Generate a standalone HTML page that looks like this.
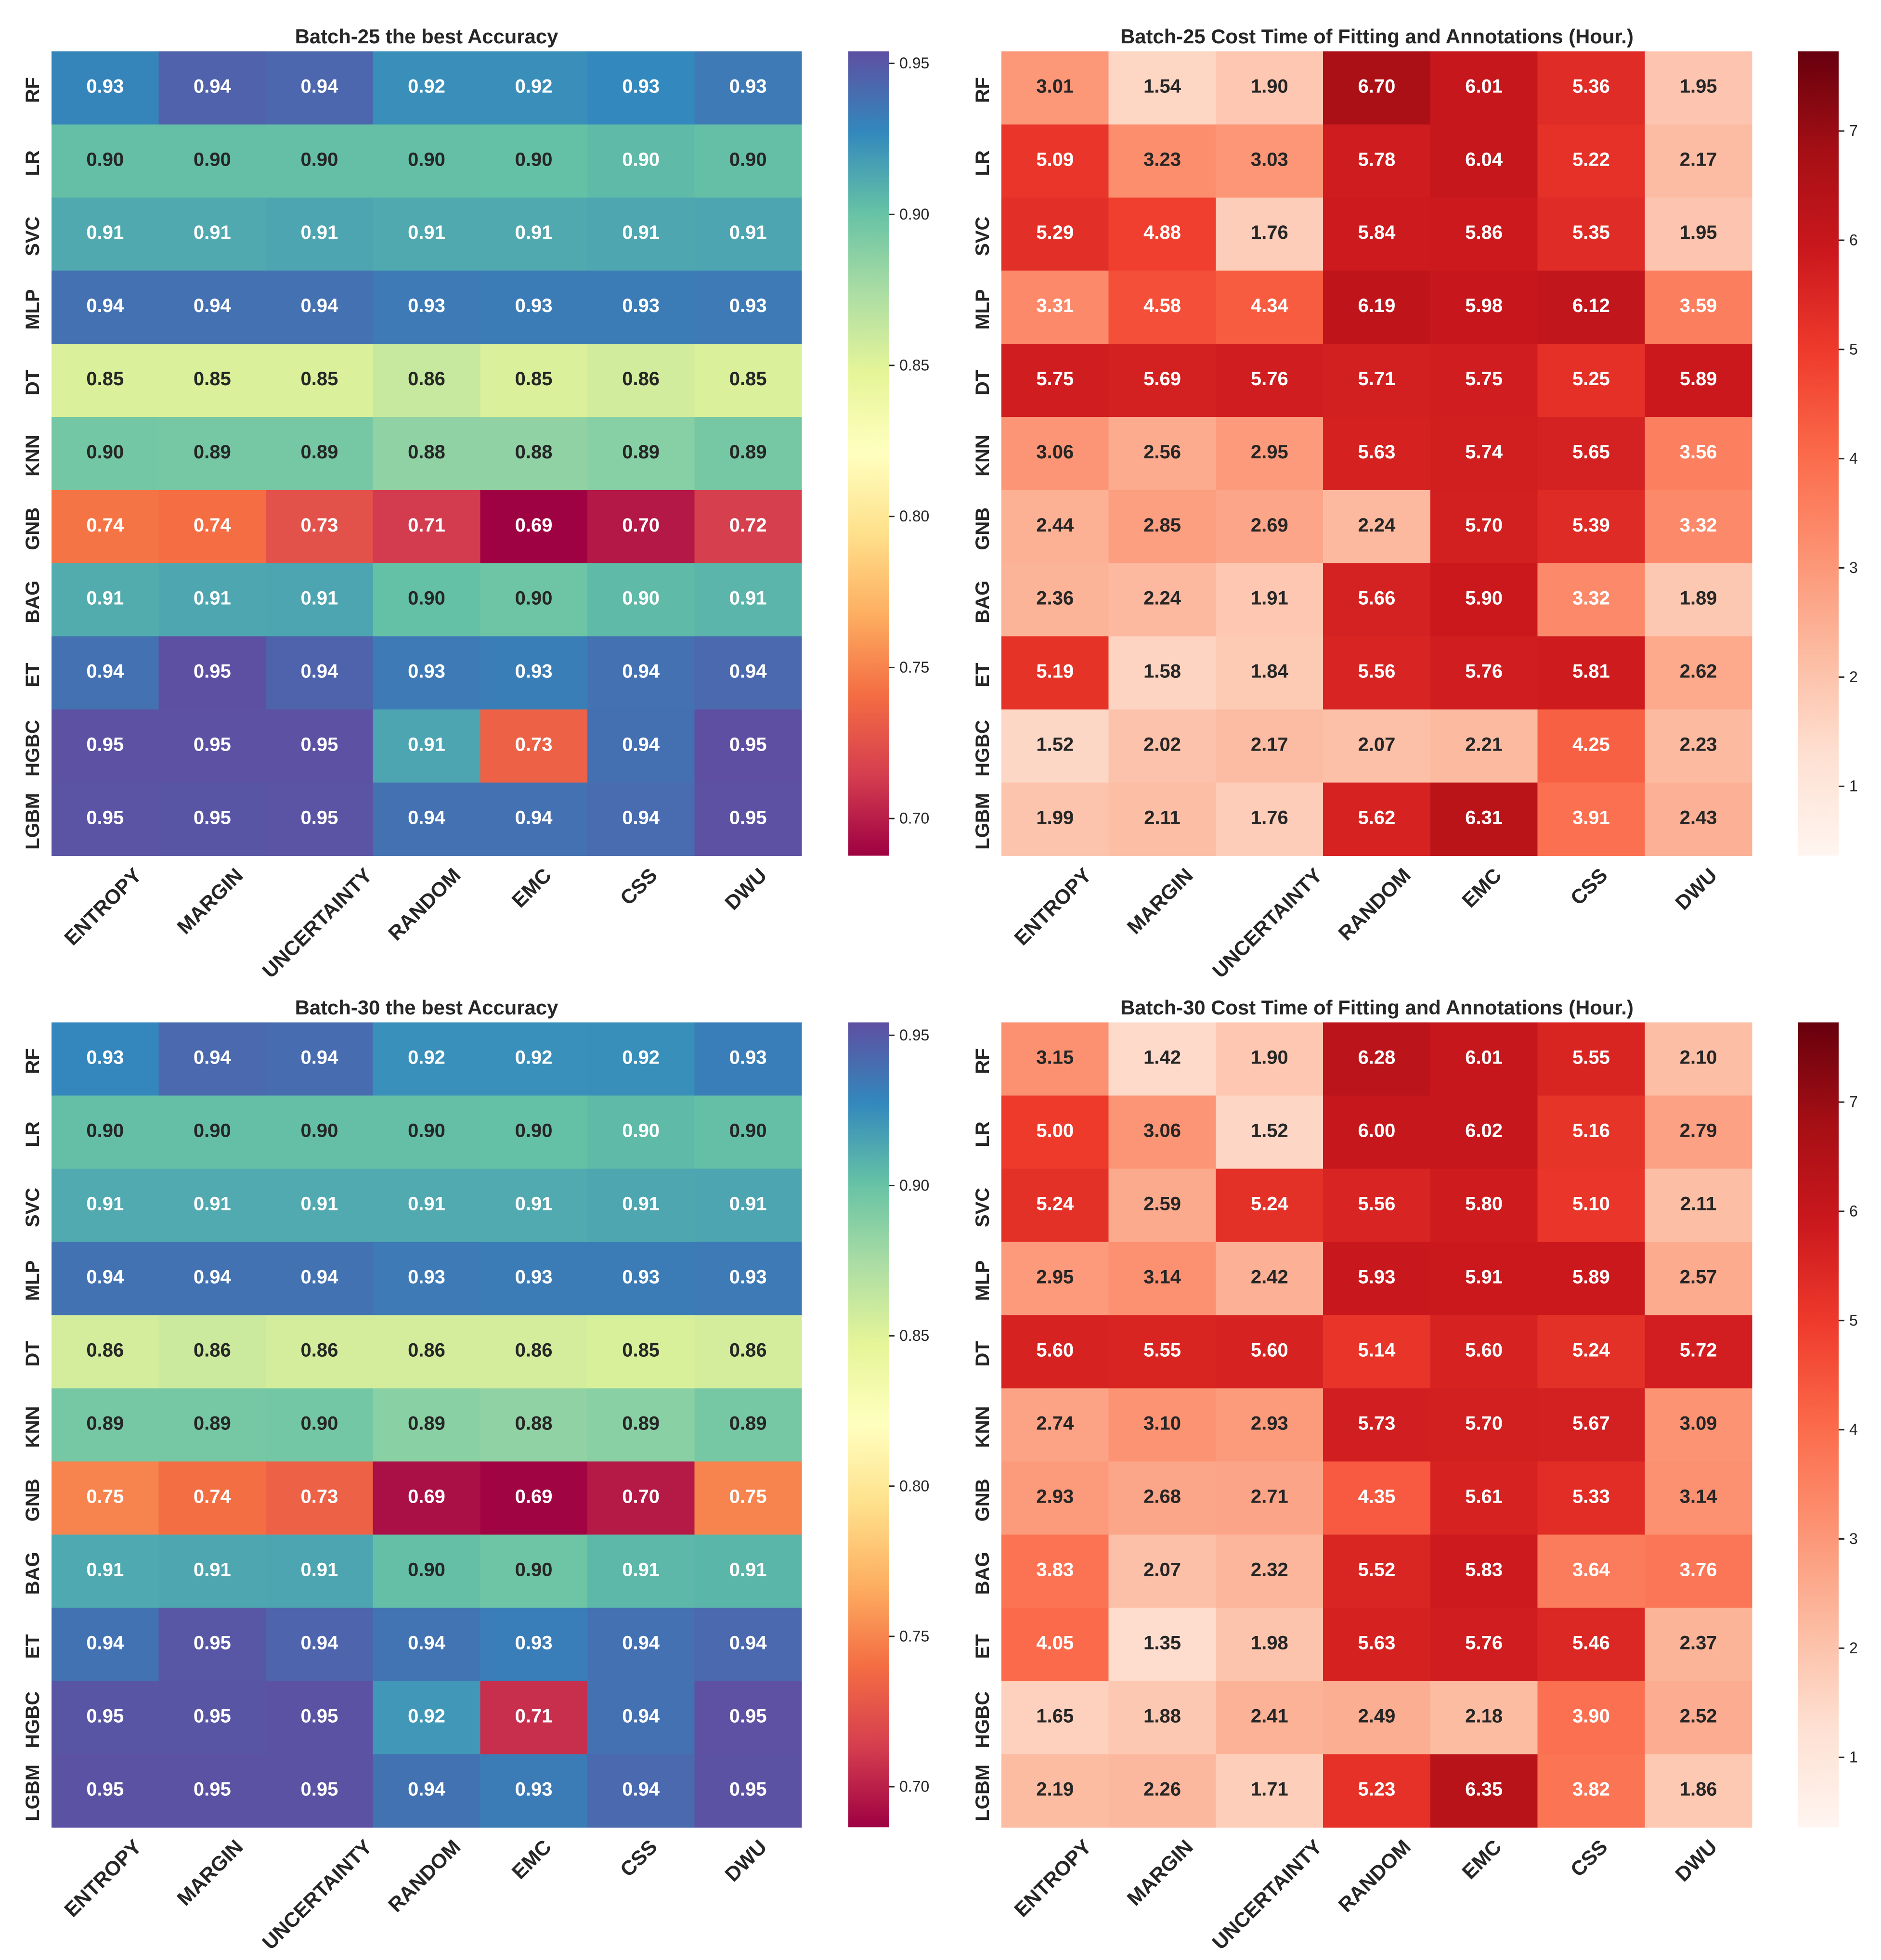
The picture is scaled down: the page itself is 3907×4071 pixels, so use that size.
<!DOCTYPE html>
<html lang="en">
<head>
<meta charset="utf-8">
<title>Batch-25 and Batch-30 accuracy and cost heatmaps</title>
<style>
html,body{margin:0;padding:0;background:#fff;}
svg{display:block;}
text{font-family:"Liberation Sans",Arial,sans-serif;fill:#262626;}
.title{font-size:41.8px;font-weight:bold;text-anchor:middle;}
.annot{font-size:40px;font-weight:bold;text-anchor:middle;}
.ylab{font-size:40px;font-weight:bold;text-anchor:middle;}
.xlab{font-size:42.5px;font-weight:bold;text-anchor:middle;}
.cbt{font-size:32px;}
</style>
</head>
<body>
<svg id="figure" xmlns="http://www.w3.org/2000/svg" width="3907" height="4071" viewBox="0 0 3907 4071">
<rect x="0" y="0" width="3907" height="4071" fill="#ffffff"/>
<defs id="gradients"></defs>
<text class="title" x="886" y="90">Batch-25 the best Accuracy</text>
<text class="title" x="2860" y="90">Batch-25 Cost Time of Fitting and Annotations (Hour.)</text>
<text class="title" x="886" y="2107">Batch-30 the best Accuracy</text>
<text class="title" x="2860" y="2107">Batch-30 Cost Time of Fitting and Annotations (Hour.)</text>
</svg>
<script>
const models = ["RF","LR","SVC","MLP","DT","KNN","GNB","BAG","ET","HGBC","LGBM"];
const strategies = ["ENTROPY","MARGIN","UNCERTAINTY","RANDOM","EMC","CSS","DWU"];

const accuracyBatch25 = [
  [.929,.945,.943,.924,.924,.927,.934],
  [.902,.902,.902,.902,.901,.9045,.902],
  [.912,.912,.914,.912,.912,.913,.914],
  [.938,.938,.938,.934,.933,.933,.934],
  [.853,.853,.853,.862,.853,.857,.853],
  [.8955,.8945,.8945,.8845,.8845,.888,.8945],
  [.744,.741,.7255,.7135,.688,.6977,.7155],
  [.911,.913,.914,.901,.898,.9045,.9065],
  [.938,.9535,.9445,.934,.932,.938,.942],
  [.953,.953,.953,.914,.7349,.9385,.954],
  [.952,.951,.952,.938,.938,.941,.953]
];
const costBatch25 = [
  [3.01,1.54,1.90,6.70,6.01,5.36,1.95],
  [5.09,3.23,3.03,5.78,6.04,5.22,2.17],
  [5.29,4.88,1.76,5.84,5.86,5.35,1.95],
  [3.31,4.58,4.34,6.19,5.98,6.12,3.59],
  [5.75,5.69,5.76,5.71,5.75,5.25,5.89],
  [3.06,2.56,2.95,5.63,5.74,5.65,3.56],
  [2.44,2.85,2.69,2.24,5.70,5.39,3.32],
  [2.36,2.24,1.91,5.66,5.90,3.32,1.89],
  [5.19,1.58,1.84,5.56,5.76,5.81,2.62],
  [1.52,2.02,2.17,2.07,2.21,4.25,2.23],
  [1.99,2.11,1.76,5.62,6.31,3.91,2.43]
];
const accuracyBatch30 = [
  [.928,.942,.940,.924,.924,.9245,.932],
  [.902,.902,.902,.902,.901,.9045,.902],
  [.912,.912,.912,.912,.912,.913,.914],
  [.938,.938,.938,.934,.933,.933,.934],
  [.856,.859,.856,.856,.856,.853,.856],
  [.8945,.8945,.8955,.887,.8845,.887,.8945],
  [.7495,.7405,.734,.6925,.688,.6975,.7495],
  [.9125,.913,.914,.902,.898,.9055,.9065],
  [.938,.9505,.9445,.937,.932,.9385,.942],
  [.9515,.9515,.953,.9205,.7066,.9385,.954],
  [.953,.953,.953,.938,.933,.942,.953]
];
const costBatch30 = [
  [3.15,1.42,1.90,6.28,6.01,5.55,2.10],
  [5.00,3.06,1.52,6.00,6.02,5.16,2.79],
  [5.24,2.59,5.24,5.56,5.80,5.10,2.11],
  [2.95,3.14,2.42,5.93,5.91,5.89,2.57],
  [5.60,5.55,5.60,5.14,5.60,5.24,5.72],
  [2.74,3.10,2.93,5.73,5.70,5.67,3.09],
  [2.93,2.68,2.71,4.35,5.61,5.33,3.14],
  [3.83,2.07,2.32,5.52,5.83,3.64,3.76],
  [4.05,1.35,1.98,5.63,5.76,5.46,2.37],
  [1.65,1.88,2.41,2.49,2.18,3.90,2.52],
  [2.19,2.26,1.71,5.23,6.35,3.82,1.86]
];

const accuracyTicks = [0.70,0.75,0.80,0.85,0.90,0.95];
const accuracyTickLabels = ["0.70","0.75","0.80","0.85","0.90","0.95"];
const costTicks = [1,2,3,4,5,6,7];
const costTickLabels = ["1","2","3","4","5","6","7"];

const accuracyRangeBatch25 = [0.6877,0.9540];
const accuracyRangeBatch30 = [0.6865,0.9543];
const costRangeBatch25 = [0.365,7.73];
const costRangeBatch30 = [0.36,7.73];

const spectralColors = ["#9e0142","#d53e4f","#f46d43","#fdae61","#fee08b","#ffffbf","#e6f598","#abdda4","#66c2a5","#3288bd","#5e4fa2"];
const redsColors = ["#fff5f0","#fee0d2","#fcbba1","#fc9272","#fb6a4a","#ef3b2c","#cb181d","#a50f15","#67000d"];

const SVG_NS = "http://www.w3.org/2000/svg";
const figure = document.getElementById("figure");
const gradientDefs = document.getElementById("gradients");

function hexToRgb(hex) {
  return [parseInt(hex.slice(1,3),16),parseInt(hex.slice(3,5),16),parseInt(hex.slice(5,7),16)];
}
function sampleColormap(colors, t) {
  const clamped = Math.max(0, Math.min(1, t));
  const pos = clamped * (colors.length - 1);
  const i = Math.min(Math.floor(pos), colors.length - 2);
  const f = pos - i;
  const a = hexToRgb(colors[i]);
  const b = hexToRgb(colors[i + 1]);
  return [0,1,2].map(function (k) { return Math.round(a[k] + (b[k] - a[k]) * f); });
}
function relativeLuminance(rgb) {
  const lin = rgb.map(function (c) {
    const s = c / 255;
    return s <= 0.03928 ? s / 12.92 : Math.pow((s + 0.055) / 1.055, 2.4);
  });
  return 0.2126 * lin[0] + 0.7152 * lin[1] + 0.0722 * lin[2];
}
function make(tag, attrs, parent) {
  const el = document.createElementNS(SVG_NS, tag);
  Object.keys(attrs).forEach(function (k) { el.setAttribute(k, attrs[k]); });
  parent.appendChild(el);
  return el;
}

function drawPanel(key, values, range, colors, ticks, tickLabels, box, bar) {
  const group = make("g", {}, figure);
  
  

  const cellW = (box.x1 - box.x0) / strategies.length;
  const cellH = (box.y1 - box.y0) / models.length;
  const colX = function (j) { return box.x0 + j * cellW; };
  const rowY = function (i) { return box.y0 + i * cellH; };
  const norm = function (v) { return (v - range[0]) / (range[1] - range[0]); };
  const barY = function (v) { return box.y1 - norm(v) * (box.y1 - box.y0); };

  values.forEach(function (row, i) {
    row.forEach(function (v, j) {
      const rgb = sampleColormap(colors, norm(v));
      const cell = make("rect", {
        x: colX(j), y: rowY(i), width: cellW + 0.5, height: cellH + 0.5,
        fill: "rgb(" + rgb.join(",") + ")", "shape-rendering": "crispEdges"
      }, group);
      
      
    });
  });
  values.forEach(function (row, i) {
    row.forEach(function (v, j) {
      const rgb = sampleColormap(colors, norm(v));
      const label = make("text", {
        class: "annot", x: colX(j) + cellW / 2, y: rowY(i) + cellH / 2 + 10,
        style: "fill:" + (relativeLuminance(rgb) > 0.408 ? "#262626" : "#ffffff")
      }, group);
      label.textContent = v.toFixed(2);
      
      
    });
  });

  models.forEach(function (name, i) {
    const cy = rowY(i) + cellH / 2 + 4.5;
    const bx = box.x0 - 26;
    const lab = make("text", {
      class: "ylab", x: bx, y: cy, transform: "rotate(-90 " + bx + " " + cy + ")"
    }, group);
    lab.textContent = name;
    
    
  });

  strategies.forEach(function (name, j) {
    const lab = make("text", { class: "xlab", x: 0, y: 0 }, group);
    lab.textContent = name;
    
    
    const len = lab.getComputedTextLength();
    const cx = colX(j) + cellW / 2 - 5;
    const cy = box.y1 + 22 + 0.7071 * (len + 31) / 2;
    lab.setAttribute("x", cx);
    lab.setAttribute("y", cy + 15);
    lab.setAttribute("transform", "rotate(-45 " + cx + " " + cy + ")");
  });

  const gradId = key + "-ramp";
  const grad = make("linearGradient", { id: gradId, x1: 0, y1: 1, x2: 0, y2: 0 }, gradientDefs);
  colors.forEach(function (c, k) {
    make("stop", { offset: k / (colors.length - 1), "stop-color": c }, grad);
  });
  const ramp = make("rect", {
    x: bar.x0, y: box.y0, width: bar.x1 - bar.x0, height: box.y1 - box.y0,
    fill: "url(#" + gradId + ")"
  }, group);
  
  

  ticks.forEach(function (t, k) {
    const y = barY(t);
    const mark = make("line", {
      x1: bar.x1, x2: bar.x1 + 12, y1: y, y2: y, stroke: "#262626", "stroke-width": 3
    }, group);
    
    
    const lab = make("text", { class: "cbt", x: bar.x1 + 22, y: y + 10.5 }, group);
    lab.textContent = tickLabels[k];
    
    
  });
}

const leftBox = { x0: 107, x1: 1665 };
const rightBox = { x0: 2080, x1: 3639 };
const topRows = { y0: 106.5, y1: 1777.3 };
const bottomRows = { y0: 2123.5, y1: 3795.3 };
const leftBar = { x0: 1762, x1: 1846 };
const rightBar = { x0: 3735, x1: 3819 };

drawPanel("batch-25-accuracy", accuracyBatch25, accuracyRangeBatch25, spectralColors, accuracyTicks, accuracyTickLabels,
  { x0: leftBox.x0, x1: leftBox.x1, y0: topRows.y0, y1: topRows.y1 }, leftBar);
drawPanel("batch-25-cost", costBatch25, costRangeBatch25, redsColors, costTicks, costTickLabels,
  { x0: rightBox.x0, x1: rightBox.x1, y0: topRows.y0, y1: topRows.y1 }, rightBar);
drawPanel("batch-30-accuracy", accuracyBatch30, accuracyRangeBatch30, spectralColors, accuracyTicks, accuracyTickLabels,
  { x0: leftBox.x0, x1: leftBox.x1, y0: bottomRows.y0, y1: bottomRows.y1 }, leftBar);
drawPanel("batch-30-cost", costBatch30, costRangeBatch30, redsColors, costTicks, costTickLabels,
  { x0: rightBox.x0, x1: rightBox.x1, y0: bottomRows.y0, y1: bottomRows.y1 }, rightBar);
</script>
</body>
</html>
